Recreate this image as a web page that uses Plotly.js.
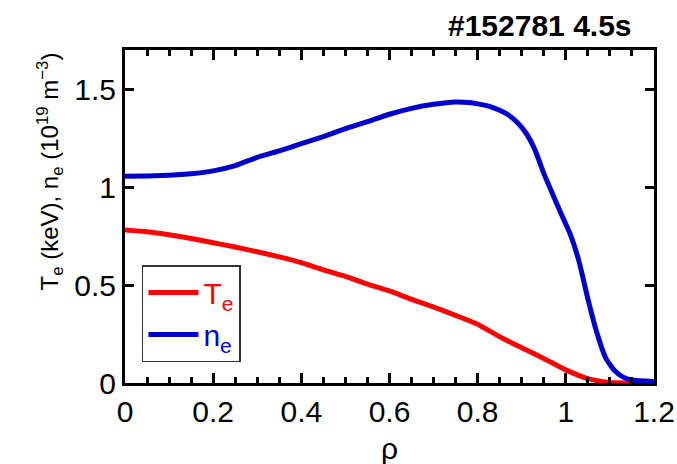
<!DOCTYPE html>
<html>
<head>
<meta charset="utf-8">
<script src="https://cdn.plot.ly/plotly-3.0.1.min.js"></script>
<style>
html,body{margin:0;padding:0;background:#fff;}
#wrap{position:relative;width:677px;height:464px;}
#chart,#frame{position:absolute;left:0;top:0;width:677px;height:464px;}
#frame{pointer-events:none;}
</style>
</head>
<body>
<div id="wrap"><div id="chart"></div><div id="frame"></div></div>
<script>
const rhoNe = [0, 0.05, 0.1, 0.15, 0.2, 0.25, 0.3, 0.35, 0.4, 0.45, 0.5, 0.55, 0.6, 0.65, 0.7, 0.75, 0.78, 0.8, 0.83, 0.85, 0.87, 0.89, 0.91, 0.93, 0.95, 0.97, 0.99, 1.01, 1.03, 1.05, 1.07, 1.09, 1.11, 1.13, 1.15, 1.2];
const ne = [1.055, 1.057, 1.06, 1.068, 1.083, 1.11, 1.152, 1.185, 1.222, 1.258, 1.298, 1.334, 1.372, 1.402, 1.423, 1.435, 1.432, 1.425, 1.41, 1.392, 1.368, 1.33, 1.275, 1.19, 1.07, 0.965, 0.86, 0.76, 0.62, 0.43, 0.26, 0.13, 0.065, 0.03, 0.015, 0.007];
const rhoTe = [0, 0.05, 0.1, 0.15, 0.2, 0.25, 0.3, 0.35, 0.4, 0.45, 0.5, 0.55, 0.6, 0.65, 0.7, 0.75, 0.8, 0.85, 0.9, 0.95, 1.0, 1.05, 1.1, 1.15, 1.2];
const Te = [0.781, 0.772, 0.757, 0.738, 0.716, 0.694, 0.67, 0.644, 0.615, 0.578, 0.544, 0.505, 0.47, 0.427, 0.388, 0.345, 0.30, 0.236, 0.18, 0.125, 0.067, 0.022, 0.002, 0, 0];
const shotTitle = '<b>#152781 4.5s</b>';
const yLabel = 'T<sub>e</sub> (keV), n<sub>e</sub> (10<sup>19</sup> m<sup>−3</sup>)';
const xLabel = 'ρ';
const teName = '<span style="color:#ff0000">T<sub>e</sub></span>';
const neName = '<span style="color:#0000cc">n<sub>e</sub></span>';

const FONT = 'Liberation Sans, Arial, sans-serif';
const MARGIN = {l: 125, r: 23, t: 50, b: 81};
const X_RANGE = [0, 1.2];
const Y_RANGE = [0, 1.7];

const traces = [
  {x: rhoTe, y: Te, mode: 'lines', name: teName, line: {color: '#ff0000', width: 5, shape: 'spline', smoothing: 0.5}},
  {x: rhoNe, y: ne, mode: 'lines', name: neName, line: {color: '#0000cc', width: 5, shape: 'spline', smoothing: 0.5}}
];
const axisCommon = {
  showgrid: false, zeroline: false, showline: true, linecolor: '#000', linewidth: 3,
  ticks: 'inside', tickcolor: '#000', tickwidth: 3, mirror: 'allticks',
  tickfont: {family: FONT, size: 30, color: '#000'}
};
const layout = {
  width: 677, height: 464, margin: MARGIN,
  paper_bgcolor: '#fff', plot_bgcolor: '#fff',
  showlegend: true,
  legend: {x: 0.032, y: 0.354, xanchor: 'left', yanchor: 'top', bordercolor: '#333', borderwidth: 1.5,
           bgcolor: 'rgba(255,255,255,0)', font: {family: FONT, size: 30}, itemwidth: 50},
  xaxis: Object.assign({}, axisCommon, {range: X_RANGE, tickmode: 'linear', tick0: 0, dtick: 0.2, ticklen: 10}),
  yaxis: Object.assign({}, axisCommon, {range: Y_RANGE, tickmode: 'linear', tick0: 0, dtick: 0.5, ticklen: 9}),
  annotations: [
    {text: shotTitle, xref: 'paper', yref: 'paper', x: 0.962, y: 1.0, xanchor: 'right', yanchor: 'bottom', yshift: 6,
     showarrow: false, font: {family: FONT, size: 30, color: '#000'}},
    {text: yLabel, xref: 'paper', yref: 'paper', x: 0, y: 0.5, xshift: -95, yshift: 45, textangle: -90,
     showarrow: false, font: {family: FONT, size: 24, color: '#000'}},
    {text: xLabel, xref: 'paper', yref: 'paper', x: 0.5, y: 0, yanchor: 'middle', yshift: -65,
     showarrow: false, font: {family: FONT, size: 30, color: '#000'}}
  ]
};
Plotly.newPlot('chart', traces, layout, {displayModeBar: false, staticPlot: true});

// Transparent frame layer on top: axis lines with inward major/minor ticks on all four sides.
const frameAxis = {
  showgrid: false, zeroline: false, showline: true, linecolor: '#000', linewidth: 3,
  ticks: 'inside', tickcolor: '#000', tickwidth: 3, mirror: 'allticks', showticklabels: false, fixedrange: true
};
const frameLayout = {
  width: 677, height: 464, margin: MARGIN,
  paper_bgcolor: 'rgba(0,0,0,0)', plot_bgcolor: 'rgba(0,0,0,0)', showlegend: false,
  xaxis: Object.assign({}, frameAxis, {range: X_RANGE, dtick: 0.2, ticklen: 10,
    minor: {dtick: 0.05, ticks: 'inside', ticklen: 6, tickwidth: 3, tickcolor: '#000'}}),
  yaxis: Object.assign({}, frameAxis, {range: Y_RANGE, dtick: 0.5, ticklen: 9})
};
Plotly.newPlot('frame', [], frameLayout, {displayModeBar: false, staticPlot: true});
</script>
</body>
</html>
